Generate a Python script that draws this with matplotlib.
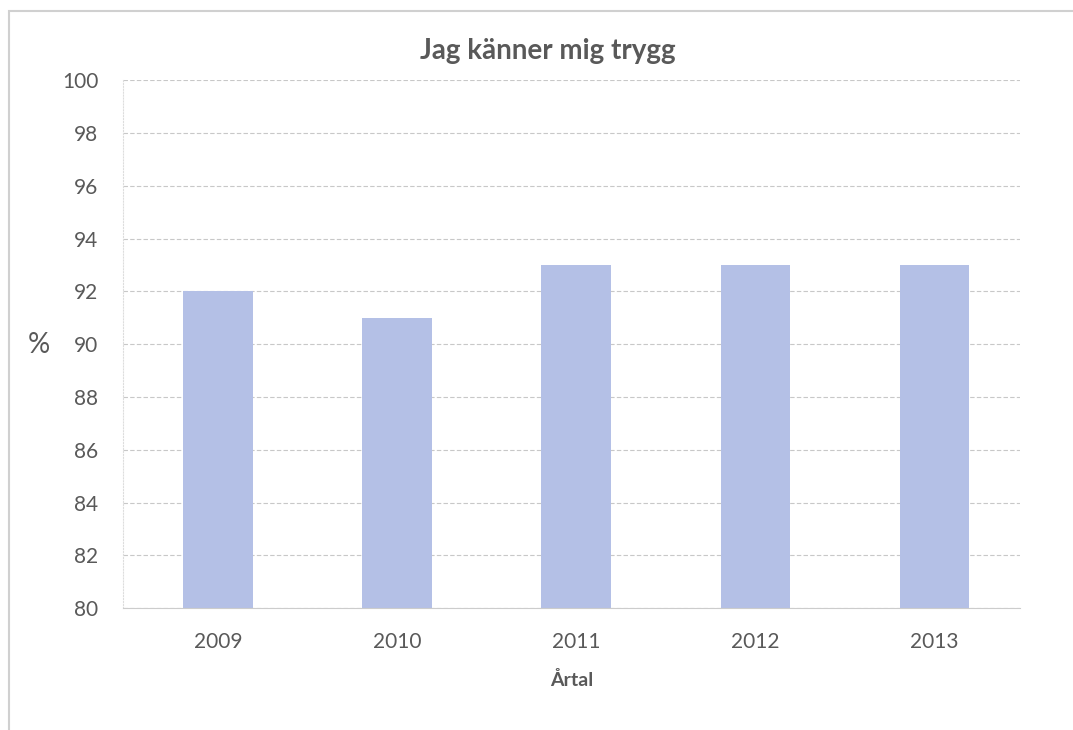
import numpy as np
import matplotlib.pyplot as plt
from matplotlib.patches import Rectangle

# data
years = ["2009", "2010", "2011", "2012", "2013"]
values = [92, 91, 93, 93, 93]
yticks = list(range(80, 101, 2))

plt.rcParams['font.family'] = ['Lato', 'DejaVu Sans']

fig = plt.figure(figsize=(10.73, 7.30), dpi=100)
ax = fig.add_axes([0.115, 0.167, 0.836, 0.723])

x = np.arange(len(years))
ax.bar(x, values, width=0.39, color="#b4c0e6", zorder=2)

ax.set_ylim(80, 100)
ax.set_xlim(-0.53, 4.48)
ax.set_yticks(yticks)
ax.set_xticks(x)
ax.set_xticklabels(years)
ax.tick_params(axis="both", length=0, labelsize=15, labelcolor="#595959")
ax.tick_params(axis="x", pad=17)
ax.tick_params(axis="y", pad=18)

ax.grid(axis="y", color="#c8c8c8", linestyle=(0, (4, 2)), linewidth=0.8, zorder=0)
for s in ["top", "right"]:
    ax.spines[s].set_visible(False)
ax.spines["left"].set_color("#dddddd")
ax.spines["left"].set_linestyle(":")
ax.spines["bottom"].set_color("#cccccc")
ax.spines["bottom"].set_linewidth(0.8)

fig.text(0.511, 0.930, "Jag känner mig trygg", fontsize=20, fontweight="bold",
         color="#595959", ha="center", va="center")
ax.set_xlabel("Årtal", fontsize=14, fontweight="bold", color="#595959", labelpad=14)
fig.text(0.036, 0.527, "%", fontsize=20, color="#595959", ha="center", va="center")

# light frame around the chart area
fig.patches.append(Rectangle((0.008, -0.01), 1.1, 0.995, transform=fig.transFigure,
                             fill=False, edgecolor="#d0d0d0", linewidth=1.5))

fig.savefig("out.png", dpi=100)
